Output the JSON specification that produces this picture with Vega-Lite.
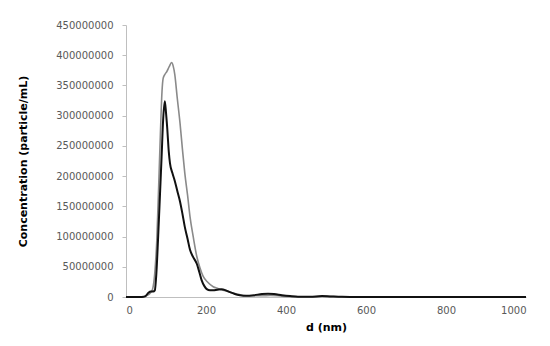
{
  "$schema": "https://vega.github.io/schema/vega-lite/v6.json",
  "autosize": "none",
  "width": 400,
  "height": 272,
  "padding": {"left": 126, "top": 25, "right": 24, "bottom": 49},
  "background": "white",
  "config": {"view": {"stroke": null}},
  "data": {"values": [
    {"s":"gray","d":0,"c":0},{"s":"gray","d":30,"c":0},{"s":"gray","d":40,"c":0.5},{"s":"gray","d":50,"c":2},{"s":"gray","d":60,"c":6},{"s":"gray","d":66,"c":12},{"s":"gray","d":72,"c":40},{"s":"gray","d":77,"c":94},{"s":"gray","d":82,"c":190},{"s":"gray","d":86,"c":270},{"s":"gray","d":90,"c":340},{"s":"gray","d":93,"c":362},{"s":"gray","d":97,"c":368},{"s":"gray","d":102,"c":373},{"s":"gray","d":108,"c":381},{"s":"gray","d":114,"c":388},{"s":"gray","d":118,"c":382},{"s":"gray","d":122,"c":368},{"s":"gray","d":128,"c":330},{"s":"gray","d":135,"c":288},{"s":"gray","d":141,"c":245},{"s":"gray","d":147,"c":205},{"s":"gray","d":154,"c":168},{"s":"gray","d":160,"c":133},{"s":"gray","d":168,"c":100},{"s":"gray","d":177,"c":67},{"s":"gray","d":185,"c":48},{"s":"gray","d":193,"c":34},{"s":"gray","d":205,"c":24},{"s":"gray","d":218,"c":17},{"s":"gray","d":230,"c":14},{"s":"gray","d":243,"c":11},{"s":"gray","d":260,"c":8},{"s":"gray","d":277,"c":5},{"s":"gray","d":290,"c":3},{"s":"gray","d":310,"c":2},{"s":"gray","d":340,"c":2},{"s":"gray","d":360,"c":2.5},{"s":"gray","d":380,"c":2},{"s":"gray","d":400,"c":1},{"s":"gray","d":430,"c":0.5},{"s":"gray","d":470,"c":0.5},{"s":"gray","d":500,"c":1},{"s":"gray","d":530,"c":0.5},{"s":"gray","d":560,"c":0.2},{"s":"gray","d":600,"c":0},{"s":"gray","d":1000,"c":0},
    {"s":"black","d":0,"c":0},{"s":"black","d":40,"c":0},{"s":"black","d":48,"c":1},{"s":"black","d":56,"c":7},{"s":"black","d":62,"c":9},{"s":"black","d":68,"c":9},{"s":"black","d":72,"c":11},{"s":"black","d":76,"c":40},{"s":"black","d":80,"c":94},{"s":"black","d":85,"c":170},{"s":"black","d":89,"c":232},{"s":"black","d":93,"c":295},{"s":"black","d":97,"c":324},{"s":"black","d":100,"c":305},{"s":"black","d":103,"c":280},{"s":"black","d":107,"c":240},{"s":"black","d":110,"c":221},{"s":"black","d":116,"c":205},{"s":"black","d":122,"c":192},{"s":"black","d":128,"c":176},{"s":"black","d":135,"c":158},{"s":"black","d":141,"c":138},{"s":"black","d":147,"c":116},{"s":"black","d":154,"c":96},{"s":"black","d":160,"c":78},{"s":"black","d":168,"c":66},{"s":"black","d":177,"c":55},{"s":"black","d":183,"c":42},{"s":"black","d":189,"c":28},{"s":"black","d":196,"c":18},{"s":"black","d":202,"c":13},{"s":"black","d":210,"c":11},{"s":"black","d":218,"c":11},{"s":"black","d":228,"c":12},{"s":"black","d":239,"c":13},{"s":"black","d":250,"c":11},{"s":"black","d":260,"c":8},{"s":"black","d":272,"c":5},{"s":"black","d":285,"c":3},{"s":"black","d":300,"c":2},{"s":"black","d":320,"c":3},{"s":"black","d":340,"c":5},{"s":"black","d":355,"c":5.5},{"s":"black","d":370,"c":5},{"s":"black","d":390,"c":3},{"s":"black","d":410,"c":1.5},{"s":"black","d":430,"c":0.5},{"s":"black","d":460,"c":0.5},{"s":"black","d":490,"c":1.5},{"s":"black","d":510,"c":1},{"s":"black","d":540,"c":0.3},{"s":"black","d":580,"c":0},{"s":"black","d":1000,"c":0}
  ]},
  "transform": [{"calculate": "datum.c * 1000000", "as": "conc"}],
  "mark": {"type": "line", "interpolate": "monotone"},
  "encoding": {
    "x": {
      "field": "d", "type": "quantitative",
      "scale": {"domain": [0, 1000], "nice": false},
      "axis": {
        "title": "d (nm)", "values": [0, 200, 400, 600, 800, 1000], "format": "d",
        "grid": false, "ticks": false, "labelPadding": 8,
        "domainColor": "#bfbfbf", "labelColor": "#595959",
        "labelFont": "DejaVu Sans", "labelFontSize": 10,
        "titleFont": "DejaVu Sans", "titleFontSize": 11, "titleFontWeight": "bold", "titleColor": "#000000",
        "titleY": 30, "titleBaseline": "middle"
      }
    },
    "y": {
      "field": "conc", "type": "quantitative",
      "scale": {"domain": [0, 450000000], "nice": false},
      "axis": {
        "title": "Concentration (particle/mL)", "values": [0,50000000,100000000,150000000,200000000,250000000,300000000,350000000,400000000,450000000],
        "format": "d", "grid": false, "tickSize": 4, "labelPadding": 9,
        "domainColor": "#bfbfbf", "tickColor": "#bfbfbf", "labelColor": "#595959",
        "labelFont": "DejaVu Sans", "labelFontSize": 10,
        "titleFont": "DejaVu Sans", "titleFontSize": 11, "titleFontWeight": "bold", "titleColor": "#000000",
        "titleX": -103, "titleBaseline": "middle"
      }
    },
    "color": {
      "field": "s", "type": "nominal",
      "scale": {"domain": ["gray", "black"], "range": ["#8a8a8a", "#111111"]},
      "legend": null
    },
    "strokeWidth": {
      "field": "s", "type": "nominal",
      "scale": {"domain": ["gray", "black"], "range": [1.6, 2]},
      "legend": null
    }
  }
}
